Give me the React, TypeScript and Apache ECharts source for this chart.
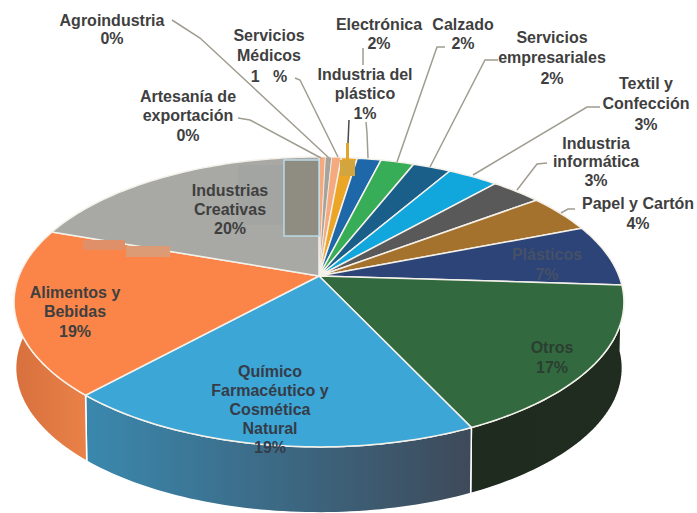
import React, { useEffect, useRef } from "react";
import * as echarts from "echarts";

const sectors = [
  "Artesanía de exportación", "Agroindustria", "Servicios Médicos", "Industria del plástico",
  "Electrónica", "Calzado", "Servicios empresariales", "Textil y Confección",
  "Industria informática", "Papel y Cartón", "Plásticos", "Otros",
  "Químico Farmacéutico y Cosmética Natural", "Alimentos y Bebidas", "Industrias Creativas",
];
const shares = [0.4, 0.4, 0.6, 1.0, 1.5, 2.1, 2.4, 3.2, 3.2, 4.3, 6.9, 17, 18.8, 18.6, 19.6];
const topColors = [
  "#f4a97e", "#a5a39c", "#f4a97e", "#eba628", "#1e67a8", "#37ad57", "#1a5e8a", "#11a7dc",
  "#595959", "#a5722e", "#2c4477", "#33693f", "#3ca6d6", "#fb8548", "#a8a8a4",
];
const wallColors = [
  ["#c98d6a", "#c98d6a"], ["#85837d", "#85837d"], ["#c98d6a", "#c98d6a"], ["#b98520", "#b98520"],
  ["#174f80", "#174f80"], ["#2a8443", "#2a8443"], ["#14486a", "#14486a"], ["#0d80a8", "#0d80a8"],
  ["#444444", "#444444"], ["#7e5723", "#7e5723"], ["#22345b", "#22345b"], ["#1f2b1f", "#202c20"],
  ["#3a88ae", "#3e4a5a"], ["#d8703e", "#e98148"], ["#808080", "#808080"],
];

const labelTexts = [
  ["Agroindustria", "0%"],
  ["Servicios", "Médicos", "1   %"],
  ["Electrónica", "2%"],
  ["Calzado", "2%"],
  ["Servicios", "empresariales", "2%"],
  ["Textil y", "Confección", "3%"],
  ["Industria", "informática", "3%"],
  ["Papel y Cartón", "4%"],
  ["Industria del", "plástico", "1%"],
  ["Artesanía de", "exportación", "0%"],
  ["Industrias", "Creativas", "20%"],
  ["Alimentos y", "Bebidas", "19%"],
  ["Químico", "Farmacéutico y", "Cosmética", "Natural", "19%"],
  ["Otros", "17%"],
  ["Plásticos", "7%"],
];
const labelAnchors = [
  [112, 20, 18], [269, 35, 20.5], [379, 24, 19], [463, 24, 19], [552, 37, 20.5], [646, 83, 20.5],
  [596, 143, 18.5], [638, 203, 20], [365, 74, 19.5], [188, 96, 19.5], [230, 190, 19],
  [75, 292, 19.5], [270, 371, 19], [552, 347, 20], [547, 254, 20],
];
const labelColors = [
  "#3f3f3f", "#3f3f3f", "#3f3f3f", "#3f3f3f", "#3f3f3f", "#3f3f3f", "#3f3f3f", "#3f3f3f",
  "#3f3f3f", "#3f3f3f", "#3f3f3f", "#3f3f3f", "#353c48", "#2a3f30", "#465068",
];
const leaders = [
  [[172, 20], [200, 38], [329, 158]],
  [[238, 118], [250, 120], [321, 158]],
  [[295, 78], [300, 80], [338, 157]],
  [[363, 48], [363, 65]],
  [[366, 122], [367, 133], [368, 158]],
  [[445, 47], [437, 47], [397, 162]],
  [[498, 60], [485, 60], [430, 167]],
  [[600, 107], [587, 107], [473, 175]],
  [[547, 163], [537, 164], [517, 190]],
  [[575, 209], [568, 209], [561, 213]],
];
const patches = [
  [238, 165, 46, 60, "#a3a5a2", "none"],
  [284, 160, 35, 76, "#8f8d82", "#bcd9e6"],
  [340, 160, 15, 16, "#d2a53e", "none"],
  [346, 143, 3, 18, "#dfa52c", "none"],
  [83, 240, 42, 10, "#e09068", "none"],
  [126, 246, 44, 11, "#dc9a75", "none"],
];

const CX = 319, CY = 276, A = 300, B = 140.3, K = 0.179, DEPTH = 66, NARROW = 0.995;
const total = shares.reduce((s, v) => s + v, 0);

function project(frac: number): [number, number] {
  const t = frac * Math.PI * 2;
  const u = Math.sin(t), v = Math.cos(t);
  const d = 1 + K * v;
  return [CX + (A * u) / d, CY - (B * v) / d];
}
function arc(from: number, to: number): [number, number][] {
  const n = Math.max(2, Math.ceil((to - from) * 300));
  const pts: [number, number][] = [];
  for (let i = 0; i <= n; i++) pts.push(project(from + ((to - from) * i) / n));
  return pts;
}
function startOf(i: number) {
  let s = 0;
  for (let k = 0; k < i; k++) s += shares[k];
  return s / total;
}

export default function App() {
  const ref = useRef<HTMLDivElement>(null);
  useEffect(() => {
    document.body.style.margin = "0";
    const chart = echarts.init(ref.current!, undefined, { renderer: "svg" });
    const data = shares.map((v, i) => [i, v]);

    const graphic: any[] = [];
    patches.forEach(([x, y, w, h, fill, stroke]) =>
      graphic.push({
        type: "rect", z: 20, silent: true,
        shape: { x, y, width: w, height: h },
        style: { fill, stroke, lineWidth: 1.5 },
      })
    );
    leaders.forEach((points) =>
      graphic.push({
        type: "polyline", z: 25, silent: true,
        shape: { points },
        style: { stroke: "#a09c90", lineWidth: 1.5, fill: "none" },
      })
    );
    graphic.push({
      type: "line", z: 25, silent: true,
      shape: { x1: 349, y1: 120, x2: 348, y2: 143 },
      style: { stroke: "#4a4a4a", lineWidth: 1.5 },
    });
    labelTexts.forEach((lines, i) => {
      const [x, y, lh] = labelAnchors[i];
      lines.forEach((text, j) =>
        graphic.push({
          type: "text", z: 30, silent: true,
          x, y: y + j * lh,
          style: {
            text, fill: labelColors[i], align: "center", verticalAlign: "middle",
            font: 'bold 16px "Liberation Sans", Arial, sans-serif',
          },
        })
      );
    });

    chart.setOption({
      animation: false,
      backgroundColor: "#ffffff",
      graphic,
      series: [
        {
          type: "custom", coordinateSystem: "none", silent: true, z: 2, data,
          renderItem: (_p: any, api: any) => {
            const i = api.value(0);
            const s = startOf(i), e = s + api.value(1) / total;
            const top = arc(s, e);
            const bottom = top
              .map(([x, y]) => [CX + (x - CX) * NARROW, y + DEPTH])
              .reverse();
            return {
              type: "polygon",
              shape: { points: [...top, ...bottom] },
              style: {
                fill: new echarts.graphic.LinearGradient(0, 0, 1, 0, [
                  { offset: 0, color: wallColors[i][0] },
                  { offset: 1, color: wallColors[i][1] },
                ]),
                stroke: "#ffffff",
                lineWidth: 1.5,
              },
            };
          },
        },
        {
          type: "custom", coordinateSystem: "none", silent: true, z: 3, data,
          renderItem: (_p: any, api: any) => {
            const i = api.value(0);
            const s = startOf(i), e = s + api.value(1) / total;
            return {
              type: "polygon",
              shape: { points: [[CX, CY], ...arc(s, e)] },
              style: { fill: topColors[i], stroke: "#f4f1ea", lineWidth: i < 3 ? 0.8 : 1.5 },
            };
          },
        },
      ],
    });
    return () => chart.dispose();
  }, []);
  return <div ref={ref} style={{ width: 697, height: 513 }} />;
}
